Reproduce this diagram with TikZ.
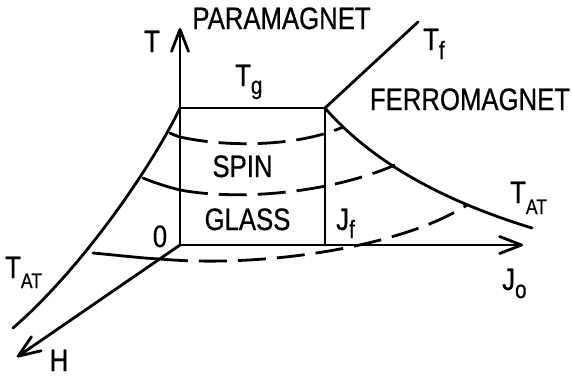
\documentclass[tikz,border=0pt]{standalone}
\usepackage{fontspec}
\setmainfont{Liberation Sans}[FakeStretch=0.83,FakeBold=0.6]
\usetikzlibrary{arrows.meta}
\newcommand\subsc[3][21]{\raisebox{-#2}{\fontsize{#1}{#1}\selectfont #3}}
\begin{document}
\begin{tikzpicture}[x=1pt,y=-1pt,
  ln/.style={line width=2.8pt, line cap=round, line join=round},
  axis/.style={ln, -{Straight Barb[length=22pt,width=17pt,line cap=round,line join=round]}},
  dsh/.style={line width=2.8pt, dash pattern=on 28pt off 11pt},
  lbl/.style={inner sep=0pt, font=\fontsize{31}{31}\selectfont, anchor=base},
  lblw/.style={lbl, anchor=base west},
]
\useasboundingbox (0,0) rectangle (572,376);
% key points
\coordinate (O) at (180,245);
\coordinate (Ttip) at (180,28);
\coordinate (Jtip) at (523,245);
\coordinate (Htip) at (17,357);
\coordinate (G) at (180,108);
\coordinate (F) at (325,108);
\coordinate (Jf) at (325,245);
\coordinate (Tfend) at (418,22);
\coordinate (Lend) at (13,328);
\coordinate (Rend) at (532,228);
% section points
\coordinate (a1) at (170,133); \coordinate (b1) at (180,137); \coordinate (c1) at (343,127);
\coordinate (a2) at (143,178); \coordinate (b2) at (180,190); \coordinate (c2) at (395,165);
\coordinate (a3) at (93,253);  \coordinate (b3) at (160,259); \coordinate (c3) at (467,205);
% axes
\draw[axis] (O) -- (Ttip);
\draw[axis] (O) -- (Jtip);
\draw[axis] (O) -- (Htip);
% spin glass box
\draw[ln] (G) -- (F) -- (Jf);
\draw[ln] (F) -- (Tfend);
% AT lines
\draw[ln] (G) .. controls (150,170) and (80,270) .. (Lend);
\draw[ln] (F) .. controls (370,160) and (440,200) .. (Rend);
% sections
\draw[ln] (a1) .. controls (174,135) and (177,136) .. (b1);
\draw[dsh] (b1) .. controls (230,148) and (300,146) .. (c1);
\draw[ln] (a2) .. controls (155,183) and (168,187) .. (b2);
\draw[dsh] (b2) .. controls (240,201) and (330,193) .. (c2);
\draw[ln] (a3) .. controls (115,255) and (140,258) .. (b3);
\draw[dsh] (b3) .. controls (260,268) and (400,248) .. (c3);
% labels
\node[lbl] (para) at (281.5,29) {PARAMAGNET};
\node[lbl] (ferro) at (470,110) {FERROMAGNET};
\node[lbl] (spin) at (242.5,177) {SPIN};
\node[lbl] (glass) at (247.5,230) {GLASS};
\node[lbl] (Tlab) at (152,52) {T};
\node[lbl] (zero) at (160,247) {0};
\node[lbl] (Hlab) at (59,371) {H};
\node[lblw] (Tglab) at (235,86) {T\subsc[25]{8pt}{g}};
\node[lblw] (Tflab) at (423,50) {T\subsc[25]{9pt}{f}};
\node[lblw] (TATl) at (5,278) {T\subsc{10pt}{AT}};
\node[lblw] (TATr) at (510,203) {T\subsc{11pt}{AT}};
\node[lblw] (Jflab) at (336,230) {J\subsc[25]{8pt}{f}};
\node[lblw] (Jolab) at (502,290) {J\subsc[25]{8pt}{o}};
\end{tikzpicture}
\end{document}
